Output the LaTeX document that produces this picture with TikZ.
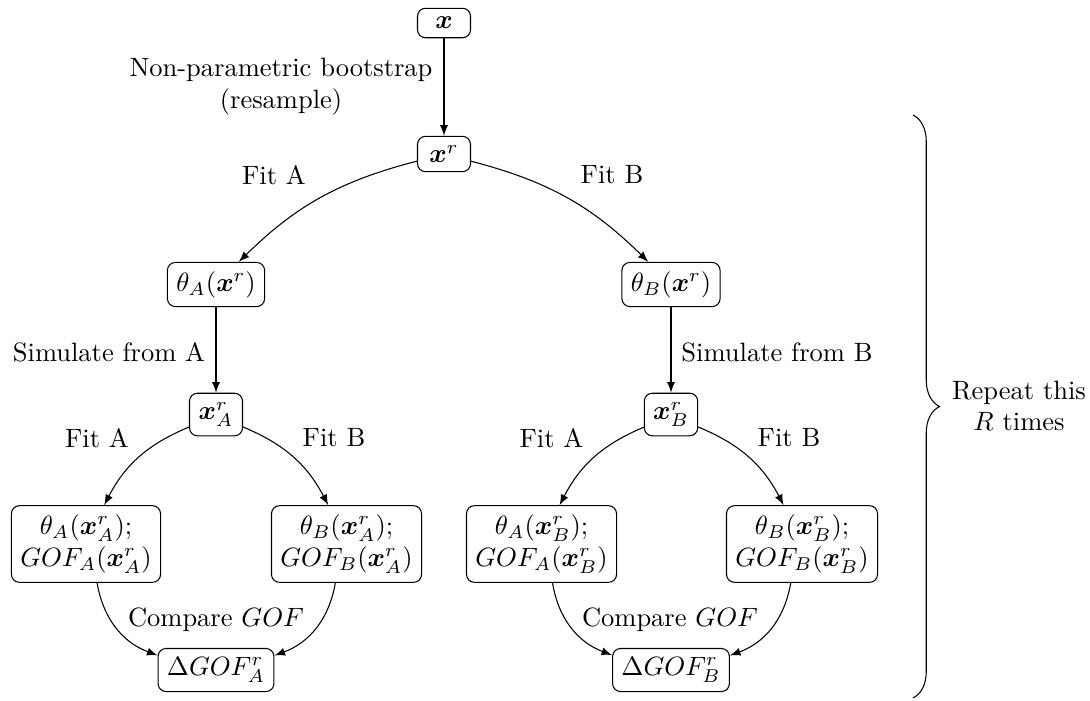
\documentclass[tikz,border=0pt]{standalone}
\usepackage{amsmath}
\usetikzlibrary{decorations.pathreplacing,arrows}
\begin{document}
\begin{tikzpicture}[x=0.3774pt,y=-0.3774pt,
  box/.style={draw,rounded corners=3pt,minimum width=20pt,align=center},
  lbl/.style={align=center},
  arr/.style={-latex}]
\useasboundingbox (0,0) rectangle (1090,700);
% nodes
\node[box] (x)  at (444,23)  {$\boldsymbol{x}$};
\node[box] (xr) at (444,154) {$\boldsymbol{x}^r$};
\node[box] (ta) at (216,284.5) {$\theta_A(\boldsymbol{x}^r)$};
\node[box] (tb) at (671,284.5) {$\theta_B(\boldsymbol{x}^r)$};
\node[box] (xa) at (216,414.5) {$\boldsymbol{x}^r_A$};
\node[box] (xb) at (671,414.5) {$\boldsymbol{x}^r_B$};
\node[box] (aa) at (86,544)  {$\theta_A(\boldsymbol{x}^r_A)$;\\$GOF_A(\boldsymbol{x}^r_A)$};
\node[box] (ab) at (346.5,544) {$\theta_B(\boldsymbol{x}^r_A)$;\\$GOF_B(\boldsymbol{x}^r_A)$};
\node[box] (ba) at (541.5,544) {$\theta_A(\boldsymbol{x}^r_B)$;\\$GOF_A(\boldsymbol{x}^r_B)$};
\node[box] (bb) at (802,544) {$\theta_B(\boldsymbol{x}^r_B)$;\\$GOF_B(\boldsymbol{x}^r_B)$};
\node[box] (da) at (216,670) {$\Delta GOF^r_A$};
\node[box] (db) at (671,670) {$\Delta GOF^r_B$};
% connectors
\draw[arr] (x) -- (xr);
\draw[arr] (xr) to[bend right=15] (ta);
\draw[arr] (xr) to[bend left=15] (tb);
\draw[arr] (ta) -- (xa);
\draw[arr] (tb) -- (xb);
\draw[arr] (xa) to[bend right=20] (aa);
\draw[arr] (xa) to[bend left=20] (ab);
\draw[arr] (xb) to[bend right=20] (ba);
\draw[arr] (xb) to[bend left=20] (bb);
\draw[arr] (aa) to[bend right=30] (da);
\draw[arr] (ab) to[bend left=30] (da);
\draw[arr] (ba) to[bend right=30] (db);
\draw[arr] (bb) to[bend left=30] (db);
% labels
\node[lbl] (l0) at (281,87) {Non-parametric bootstrap\\(resample)};
\node[lbl] (l1) at (274,175) {Fit A};
\node[lbl] (l2) at (612,175) {Fit B};
\node[lbl] (l3) at (109,352) {Simulate from A};
\node[lbl] (l4) at (777,352) {Simulate from B};
\node[lbl] (l5) at (97,438) {Fit A};
\node[lbl] (l6) at (334,438) {Fit B};
\node[lbl] (l7) at (551.5,438) {Fit A};
\node[lbl] (l8) at (789,438) {Fit B};
\node[lbl] (l9) at (216,620) {Compare $GOF$};
\node[lbl] (l10) at (670,620) {Compare $GOF$};
% brace
\coordinate (bt) at (913,115);
\coordinate (bbot) at (913,698);
\draw[decorate,decoration={brace,amplitude=10pt}] (bt) -- (bbot);
\node[lbl] (rep) at (1019,406) {Repeat this\\$R$ times};
\end{tikzpicture}
\end{document}
